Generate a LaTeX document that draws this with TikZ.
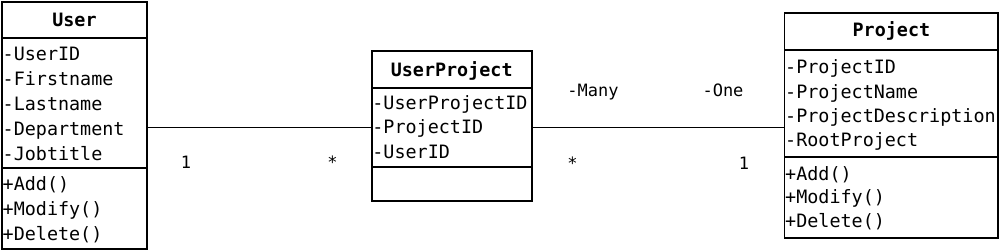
\documentclass[tikz,border=0pt]{standalone}
\usepackage{fontspec}
\newfontfamily\umlmono{DejaVu Sans Mono}
\begin{document}
\begin{tikzpicture}[x=1pt,y=-1pt,
  sect/.style={draw,line width=1.8pt,inner sep=0pt,outer sep=0pt,anchor=north west,minimum width=#1},
  txt/.style={inner sep=0pt,anchor=base west,font=\umlmono\fontsize{18.4}{20}\selectfont},
  head/.style={inner sep=0pt,anchor=base,font=\umlmono\bfseries\fontsize{18.4}{20}\selectfont},
  lbl/.style={inner sep=0pt,anchor=base,font=\umlmono\fontsize{17}{18}\selectfont},
  conn/.style={line width=1.8pt}]
\useasboundingbox (0,0) rectangle (1000,251);
% ---- User ----
\node[sect=145pt,minimum height=36.3pt] (uhead) at (2,2) {};
\node[sect=145pt,minimum height=130pt] (uattr) at (2,38.3) {};
\node[sect=145pt,minimum height=80.7pt] (umeth) at (2,168.3) {};
\node[head] (uname) at (74.5,26.7) {User};
\node[txt] (u1) at (2.5,60.7) {-UserID};
\node[txt] (u2) at (2.5,85.8) {-Firstname};
\node[txt] (u3) at (2.5,110.9) {-Lastname};
\node[txt] (u4) at (2.5,135.6) {-Department};
\node[txt] (u5) at (2.5,160.2) {-Jobtitle};
\node[txt] (u6) at (2.5,190) {+Add()};
\node[txt] (u7) at (2.5,215) {+Modify()};
\node[txt] (u8) at (2.5,240) {+Delete()};
% ---- UserProject ----
\node[sect=160pt,minimum height=37.6pt] (uphead) at (371.7,50.7) {};
\node[sect=160pt,minimum height=78.4pt] (upattr) at (371.7,88.3) {};
\node[sect=160pt,minimum height=34pt] (upmeth) at (371.7,166.7) {};
\node[head] (upname) at (451.7,76.2) {UserProject};
\node[txt] (up1) at (372.2,110) {-UserProjectID};
\node[txt] (up2) at (372.2,133.5) {-ProjectID};
\node[txt] (up3) at (372.2,158.3) {-UserID};
% ---- Project ----
\node[sect=213.8pt,minimum height=36.7pt] (phead) at (784.5,13.3) {};
\node[sect=213.8pt,minimum height=107.3pt] (pattr) at (784.5,50) {};
\node[sect=213.8pt,minimum height=81pt] (pmeth) at (784.5,157.3) {};
\node[head] (pname) at (891.4,37) {Project};
\node[txt] (p1) at (785,73.3) {-ProjectID};
\node[txt] (p2) at (785,98.5) {-ProjectName};
\node[txt] (p3) at (785,122.8) {-ProjectDescription};
\node[txt] (p4) at (785,146.7) {-RootProject};
\node[txt] (p5) at (785,180) {+Add()};
\node[txt] (p6) at (785,203.5) {+Modify()};
\node[txt] (p7) at (785,227.5) {+Delete()};
% ---- connectors ----
\draw[conn] (uattr.east |- upattr.center) -- (upattr.west);
\draw[conn] (upattr.east) -- (pattr.west |- upattr.center);
% ---- labels ----
\node[lbl] (l1) at (186,168.3) {1};
\node[lbl] (l2) at (332.5,168.3) {*};
\node[lbl] (l3) at (593,96.7) {-Many};
\node[lbl] (l4) at (723,96.7) {-One};
\node[lbl] (l5) at (572.5,169) {*};
\node[lbl] (l6) at (744,169) {1};
\end{tikzpicture}
\end{document}
